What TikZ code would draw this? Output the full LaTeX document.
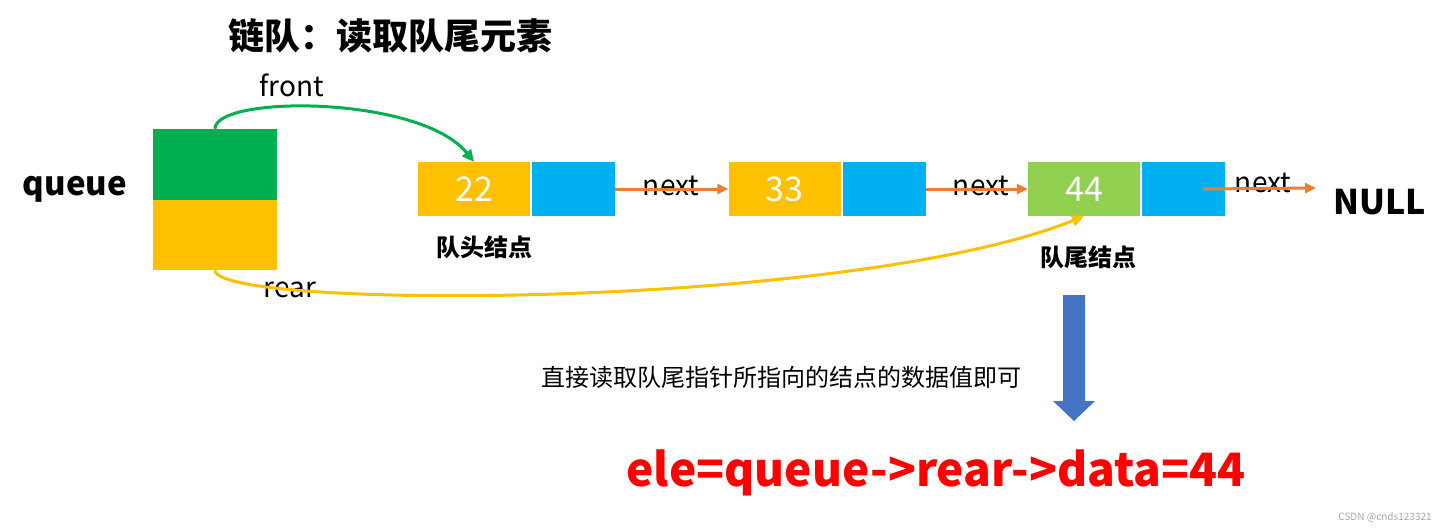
\documentclass[tikz,border=0pt]{standalone}
\usepackage{fontspec}
\setmainfont{Noto Sans CJK SC}
\usetikzlibrary{arrows.meta,positioning,calc}
\definecolor{qgreen}{HTML}{00B050}
\definecolor{qyellow}{HTML}{FFC000}
\definecolor{qblue}{HTML}{00B0F0}
\definecolor{qlime}{HTML}{92D050}
\definecolor{qorange}{HTML}{ED7D31}
\definecolor{qarrow}{HTML}{4472C4}

\begin{document}
\begin{tikzpicture}[x=1pt, y=-1pt,
  every node/.style={inner sep=0pt},
  cell/.style ={minimum height=54pt, font=\fontsize{34}{34}\selectfont, text=white},
  dat/.style  ={cell, minimum width=112pt, fill=qyellow},
  nxt/.style  ={cell, minimum width=83pt, fill=qblue},
  half/.style ={minimum width=124pt, minimum height=70.5pt},
  lbl/.style  ={font=\fontsize{28}{28}\selectfont},
  nodecap/.style ={font=\fontsize{24}{24}\selectfont\bfseries},
  link/.style ={-{Triangle[length=11pt,width=10pt]}, line width=3pt, draw=qorange},
  ptr/.style  ={-{Triangle[length=12pt,width=11pt]}, line width=3pt}
]
\useasboundingbox (0,0) rectangle (1447,530);

%% ─── title and queue head ──────────────────────────────────────────────────
\node[font=\fontsize{36}{36}\selectfont\bfseries] (title) at (390,36) {链队：读取队尾元素};
\node[font=\fontsize{33}{33}\selectfont\bfseries] (qname) at (75,189) {queue};
\node[half, fill=qgreen]  (qfront) at (215,164.25) {};
\node[half, fill=qyellow] (qrear)  at (215,234.75) {};

%% ─── linked nodes ──────────────────────────────────────────────────────────
\node[dat] (d1) at (474,189)    {22};
\node[nxt] (n1) at (573.5,189)  {};
\node[dat] (d2) at (784.5,189)  {33};
\node[nxt] (n2) at (884.5,189)  {};
\node[dat, fill=qlime] (d3) at (1084,189) {44};
\node[nxt] (n3) at (1183.5,189) {};
\node[font=\fontsize{34}{34}\selectfont\bfseries] (null) at (1380,202) {NULL};

\node[nodecap] (headcap) at (484,247)  {队头结点};
\node[nodecap] (tailcap) at (1088,257) {队尾结点};

\node[lbl] (nx1) at (671,186)  {next};
\node[lbl] (nx2) at (981,186)  {next};
\node[lbl] (nx3) at (1263,183) {next};
\coordinate (tailend) at (1316,188);

\draw[link] (n1.east) -- (d2.west);
\draw[link] (n2.east) -- (d3.west);
\draw[link] ([xshift=-22pt]n3.east) -- (tailend);

%% ─── front / rear pointers ─────────────────────────────────────────────────
\node[lbl] (frontlbl) at (292,85)  {front};
\node[lbl] (rearlbl)  at (290,290) {rear};
\draw[ptr, draw=qgreen]  (qfront.north) .. controls (215,95) and (420,95) .. (d1.north);
\draw[ptr, draw=qyellow] (qrear.south) .. controls (215,310) and (850,310) .. (d3.south);

%% ─── reading the tail ──────────────────────────────────────────────────────
\fill[qarrow] (1063,295) -- (1085,295) -- (1085,401) -- (1095,401) -- (1074,421)
  -- (1053,401) -- (1063,401) -- cycle;
\node[font=\fontsize{24}{24}\selectfont] (hint) at (781,377) {直接读取队尾指针所指向的结点的数据值即可};
\node[font=\fontsize{46}{46}\selectfont\bfseries, text=red] (result) at (936,473) {ele=queue->rear->data=44};
\node[font=\fontsize{10}{10}\selectfont, text=gray!70] (mark) at (1385,517) {CSDN @cnds123321};

\end{tikzpicture}
\end{document}
